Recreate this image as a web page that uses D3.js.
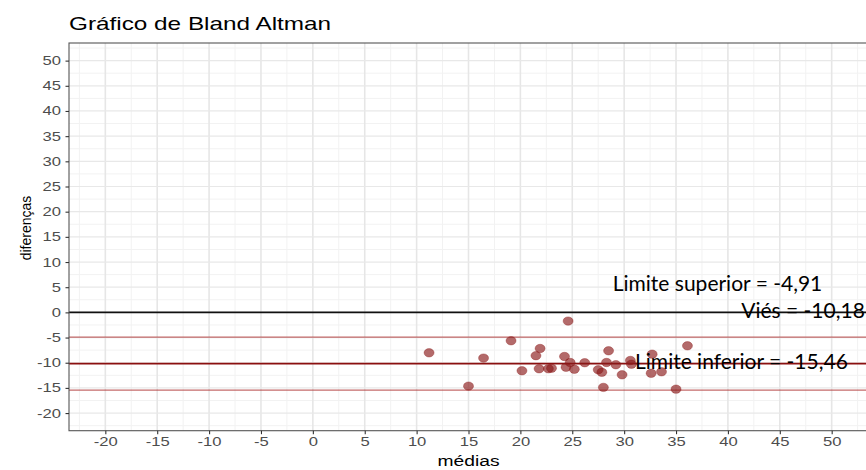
<!DOCTYPE html>
<html>
<head>
<meta charset="utf-8">
<script src="https://cdn.jsdelivr.net/npm/d3@7"></script>
<style>
  html, body { margin: 0; padding: 0; background: #fff; }
  svg { display: block; }
</style>
</head>
<body>
<svg id="chart" width="866" height="470"></svg>
<script>
// ---- data ----
const medias = [11.2, 15.0, 16.45, 19.1, 20.15, 21.9, 21.5, 21.8, 22.7, 23.0, 24.6, 24.25, 24.4, 24.8, 25.2, 26.2, 27.5, 27.85, 28.0, 28.3, 28.5, 29.2, 29.8, 30.6, 30.7, 32.7, 32.6, 33.6, 35.0, 36.1];
const diferencas = [-8.03, -14.65, -9.08, -5.64, -11.6, -7.17, -8.6, -11.2, -11.2, -11.1, -1.73, -8.76, -10.9, -9.95, -11.3, -10.0, -11.4, -11.9, -14.9, -9.95, -7.63, -10.4, -12.4, -9.55, -10.3, -8.3, -12.1, -11.8, -15.25, -6.64];
const xTicks = [-20, -15, -10, -5, 0, 5, 10, 15, 20, 25, 30, 35, 40, 45, 50];
const yTicks = [-20, -15, -10, -5, 0, 5, 10, 15, 20, 25, 30, 35, 40, 45, 50];
const refLineZero = 0;
const limiteSuperior = -4.91;
const vies = -10.18;
const limiteInferior = -15.46;
const annLabels = ["Limite superior = -4,91", "Viés = -10,18", "Limite inferior = -15,46"];
const annX = [28.9, 53.2, 31.05];
const annY = [4.15, -1.1, -11.2];
const annAnchor = ["start", "end", "start"];
const title = "Gráfico de Bland Altman";
const xTitle = "médias";
const yTitle = "diferenças";

// ---- layout ----
const svg = d3.select("#chart");
const pL = 69, pT = 43, pR = 868, pB = 430.7;
const stretch = 1.33;
const x = d3.scaleLinear().domain([-23.5, 53.5]).range([pL, pR]);
const y = d3.scaleLinear().domain([-23.5, 53.5]).range([pB, pT]);

const font = "'Liberation Sans', Arial, Helvetica, sans-serif";

// panel background
svg.append("rect").attr("x", pL).attr("y", pT).attr("width", pR - pL).attr("height", pB - pT).attr("fill", "#fff");

// grid
const minorX = xTicks.map(v => v - 2.5).concat([xTicks[xTicks.length - 1] + 2.5]);
const minorY = yTicks.map(v => v - 2.5).concat([yTicks[yTicks.length - 1] + 2.5]);
const grid = svg.append("g");
grid.append("g").selectAll("line").data(minorX).join("line")
  .attr("x1", d => x(d)).attr("x2", d => x(d)).attr("y1", pT).attr("y2", pB)
  .attr("stroke", "#f2f2f2").attr("stroke-width", 1);
grid.append("g").selectAll("line").data(minorY).join("line")
  .attr("y1", d => y(d)).attr("y2", d => y(d)).attr("x1", pL).attr("x2", pR)
  .attr("stroke", "#f2f2f2").attr("stroke-width", 1);
grid.append("g").selectAll("line").data(xTicks).join("line")
  .attr("x1", d => x(d)).attr("x2", d => x(d)).attr("y1", pT).attr("y2", pB)
  .attr("stroke", "#e6e6e6").attr("stroke-width", 1.6);
grid.append("g").selectAll("line").data(yTicks).join("line")
  .attr("y1", d => y(d)).attr("y2", d => y(d)).attr("x1", pL).attr("x2", pR)
  .attr("stroke", "#e8e8e8").attr("stroke-width", 1.2);

// reference lines
const refs = [
  {v: refLineZero, c: "#111", w: 1.6, o: 1},
  {v: limiteSuperior, c: "#b03a3a", w: 1.2, o: 0.75},
  {v: limiteInferior, c: "#b03a3a", w: 1.2, o: 0.75},
  {v: vies, c: "#8b1010", w: 1.8, o: 1}
];
svg.append("g").selectAll("line").data(refs).join("line")
  .attr("x1", pL).attr("x2", pR)
  .attr("y1", d => y(d.v)).attr("y2", d => y(d.v))
  .attr("stroke", d => d.c).attr("stroke-width", d => d.w).attr("stroke-opacity", d => d.o);

// points
svg.append("g").selectAll("ellipse").data(medias.map((m, i) => [m, diferencas[i]])).join("ellipse")
  .attr("cx", d => x(d[0])).attr("cy", d => y(d[1]))
  .attr("rx", 5).attr("ry", 4.2)
  .attr("fill", "#8b1a1a").attr("fill-opacity", 0.65)
  .attr("stroke", "#8b1a1a").attr("stroke-opacity", 0.45).attr("stroke-width", 0.8);

// panel border
svg.append("rect").attr("x", pL).attr("y", pT).attr("width", pR - pL).attr("height", pB - pT)
  .attr("fill", "none").attr("stroke", "#555").attr("stroke-width", 1.1);

// axes
const fmt = d => String(d);
const xAxis = svg.append("g").attr("transform", `translate(0,${pB})`)
  .call(d3.axisBottom(x).tickValues(xTicks).tickSize(3.5).tickPadding(5).tickFormat(fmt));
const yAxis = svg.append("g").attr("transform", `translate(${pL},0)`)
  .call(d3.axisLeft(y).tickValues(yTicks).tickSize(3.5).tickPadding(2).tickFormat(fmt));
[xAxis, yAxis].forEach(a => {
  a.select(".domain").remove();
  a.selectAll(".tick line").attr("stroke", "#333").attr("stroke-width", 1.1);
  a.selectAll(".tick text").attr("fill", "#4d4d4d").attr("font-size", 12.5).attr("font-family", font);
});
xAxis.selectAll(".tick text").attr("transform", `scale(${stretch},1)`).attr("y", 6.5);
yAxis.selectAll(".tick text").attr("x", -8 / stretch).attr("transform", `scale(${stretch},1)`);

// title
svg.append("text").attr("transform", `translate(${pL},29.5) scale(${stretch - 0.05},1)`)
  .attr("font-family", font).attr("font-size", 19).attr("fill", "#000").text(title);

// axis titles
svg.append("text").attr("transform", `translate(${(pL + pR) / 2},466) scale(${stretch},1)`)
  .attr("text-anchor", "middle").attr("font-family", font).attr("font-size", 14.5).attr("fill", "#000").text(xTitle);
svg.append("text").attr("transform", `translate(31,228) rotate(-90)`)
  .attr("text-anchor", "middle").attr("font-family", font).attr("font-size", 14).attr("fill", "#000").text(yTitle);

// annotations
svg.append("g").selectAll("text").data(annLabels).join("text")
  .attr("x", (d, i) => x(annX[i])).attr("y", (d, i) => y(annY[i]))
  .attr("text-anchor", (d, i) => annAnchor[i])
  .attr("font-family", "Lato, 'Open Sans', sans-serif").attr("font-size", 21).attr("fill", "#000")
  .text(d => d);
</script>
</body>
</html>
